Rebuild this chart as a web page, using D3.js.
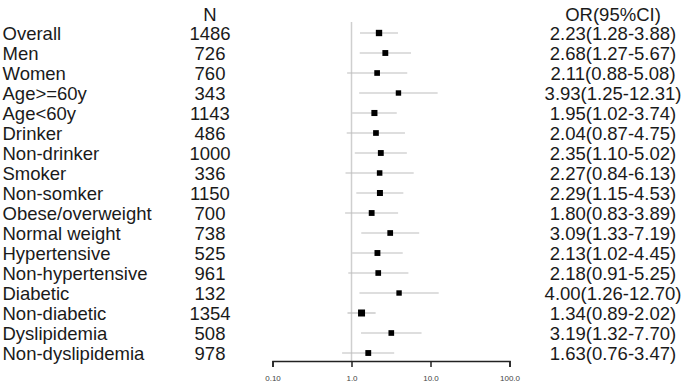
<!DOCTYPE html>
<html>
<head>
<meta charset="utf-8">
<script src="https://cdn.jsdelivr.net/npm/d3@7"></script>
<style>
  body { margin: 0; background: #fff; }
  text { font-family: Arial, "Liberation Sans", sans-serif; }
</style>
</head>
<body>
<div id="forest"></div>
<script>
// Subgroups
var groups = ["Overall", "Men", "Women", "Age>=60y", "Age<60y", "Drinker", "Non-drinker",
  "Smoker", "Non-somker", "Obese/overweight", "Normal weight", "Hypertensive",
  "Non-hypertensive", "Diabetic", "Non-diabetic", "Dyslipidemia", "Non-dyslipidemia"];
var counts = [1486, 726, 760, 343, 1143, 486, 1000, 336, 1150, 700, 738, 525, 961, 132, 1354, 508, 978];
var oddsRatio = [2.23, 2.68, 2.11, 3.93, 1.95, 2.04, 2.35, 2.27, 2.29, 1.80, 3.09, 2.13, 2.18, 4.00, 1.34, 3.19, 1.63];
var lowerCI = [1.28, 1.27, 0.88, 1.25, 1.02, 0.87, 1.10, 0.84, 1.15, 0.83, 1.33, 1.02, 0.91, 1.26, 0.89, 1.32, 0.76];
var upperCI = [3.88, 5.67, 5.08, 12.31, 3.74, 4.75, 5.02, 6.13, 4.53, 3.89, 7.19, 4.45, 5.25, 12.70, 2.02, 7.70, 3.47];
var tickValues = [0.1, 1, 10, 100];
var tickLabels = ["0.10", "1.0", "10.0", "100.0"];

var svgWidth = 685;
var svgHeight = 387;

var svg = d3.select("#forest")
  .append("svg")
  .attr("width", svgWidth)
  .attr("height", svgHeight);

var rows = groups.map(function (g, i) {
  return { name: g, n: counts[i], or: oddsRatio[i], lo: lowerCI[i], hi: upperCI[i] };
});

// Scales
var xScale = d3.scaleLog()
  .domain([0.1, 100])
  .range([272.5, 509.5]);

var yScale = d3.scalePoint()
  .domain(groups)
  .range([33, 353]);

// box size shrinks as the CI widens
var minWidth = d3.min(rows, d => Math.log(d.hi / d.lo));
var boxSize = d => 4.5 + 2.5 * minWidth / Math.log(d.hi / d.lo);

var fontSize = 18.5;
var textColor = "#1a1a1a";

// Headers
svg.append("text")
  .attr("x", 210).attr("y", 20.5)
  .attr("text-anchor", "middle")
  .attr("font-size", fontSize)
  .attr("fill", textColor)
  .text("N");

svg.append("text")
  .attr("x", 613).attr("y", 20.5)
  .attr("text-anchor", "middle")
  .attr("font-size", fontSize)
  .attr("fill", textColor)
  .text("OR(95%CI)");

// Row labels
svg.append("g").selectAll("text")
  .data(rows)
  .enter()
  .append("text")
  .attr("x", 2.5)
  .attr("y", d => yScale(d.name) + 6.5)
  .attr("font-size", fontSize)
  .attr("fill", textColor)
  .text(d => d.name);

svg.append("g").selectAll("text")
  .data(rows)
  .enter()
  .append("text")
  .attr("x", 210)
  .attr("y", d => yScale(d.name) + 6.5)
  .attr("text-anchor", "middle")
  .attr("font-size", fontSize)
  .attr("fill", textColor)
  .text(d => d.n);

svg.append("g").selectAll("text")
  .data(rows)
  .enter()
  .append("text")
  .attr("x", 613)
  .attr("y", d => yScale(d.name) + 6.5)
  .attr("text-anchor", "middle")
  .attr("font-size", fontSize)
  .attr("fill", textColor)
  .text(d => d.or.toFixed(2) + "(" + d.lo.toFixed(2) + "-" + d.hi.toFixed(2) + ")");

// Reference line at OR = 1
svg.append("line")
  .attr("x1", xScale(1)).attr("x2", xScale(1))
  .attr("y1", 22).attr("y2", 361)
  .attr("stroke", "#cfcfcf")
  .attr("stroke-width", 1.5);

// Confidence intervals
svg.append("g").selectAll("line")
  .data(rows)
  .enter()
  .append("line")
  .attr("x1", d => xScale(d.lo))
  .attr("x2", d => xScale(d.hi))
  .attr("y1", d => yScale(d.name))
  .attr("y2", d => yScale(d.name))
  .attr("stroke", "#bdbdbd")
  .attr("stroke-width", 1.2);

// Point estimates
svg.append("g").selectAll("rect")
  .data(rows)
  .enter()
  .append("rect")
  .attr("x", d => xScale(d.or) - boxSize(d) / 2)
  .attr("y", d => yScale(d.name) - boxSize(d) / 2)
  .attr("width", d => boxSize(d))
  .attr("height", d => boxSize(d))
  .attr("fill", "#000");

// Axis
var bottomAxis = d3.axisBottom(xScale)
  .tickValues(tickValues)
  .tickFormat((d, i) => tickLabels[i])
  .tickSize(6)
  .tickSizeOuter(6)
  .tickPadding(8);

var axisG = svg.append("g")
  .attr("transform", "translate(0,361)")
  .call(bottomAxis);

axisG.select(".domain").attr("stroke", "#222").attr("stroke-width", 1.5);
axisG.selectAll(".tick line").attr("stroke", "#222").attr("stroke-width", 1.5);
axisG.selectAll(".tick text")
  .attr("font-size", 8)
  .attr("fill", "#444")
  .attr("font-family", "Arial, 'Liberation Sans', sans-serif");
</script>
</body>
</html>
